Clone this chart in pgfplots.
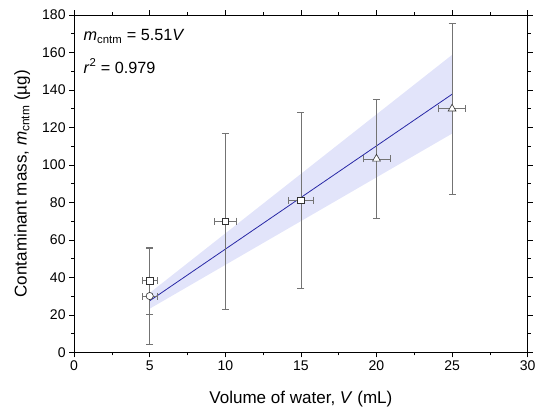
\documentclass[border=0pt]{standalone}
\usepackage{fontspec}
\setmainfont{Liberation Sans}
\usepackage{pgfplots}
\pgfplotsset{compat=1.18}
\definecolor{fitline}{RGB}{40,40,165}
\definecolor{band}{RGB}{226,228,250}
\definecolor{ebar}{RGB}{115,115,115}
\definecolor{medge}{RGB}{50,50,50}

\begin{document}
\begin{tikzpicture}
\begin{axis}[
    scale only axis,
    width=453pt, height=337pt,
    xmin=0, xmax=30, ymin=0, ymax=180,
    xtick distance=5, ytick distance=20,
    minor x tick num=1, minor y tick num=1,
    tick align=outside,
    major tick length=5pt, minor tick length=3pt,
    tick style={black, line width=0.6pt},
    axis line style={line width=0.8pt},
    /pgf/number format/assume math mode=true,
    tick label style={font=\fontsize{14}{16}\selectfont},
    label style={font=\fontsize{17}{20}\selectfont},
    xlabel={Volume of water, \textit{V} (mL)},
    ylabel={Contaminant mass, \textit{m}\textsubscript{cntm} (µg)},
    xlabel shift=13pt, ylabel shift=5pt,
    error bars/error bar style={ebar, line width=0.6pt},
    error bars/error mark options={ebar, line width=0.6pt, mark size=3.5pt, rotate=90},
]
% confidence band of the fit
\addplot[fill=band, draw=none] coordinates {
    (5,31.75) (25,158.75) (25,116.75) (5,23.35)
} -- cycle;
% fit line
\addplot[fitline, line width=0.8pt] coordinates {(5,27.55) (25,137.75)};

% squares
\addplot[only marks, mark=square*, mark size=3.4pt,
    mark options={fill=white, draw=medge, line width=0.6pt},
    error bars/.cd, x dir=both, x explicit, y dir=both, y explicit]
    coordinates {
    (5,38.3)  +- (0.5,17.9)
    (10,70.0) +- (0.72,47)
    (15,81.2) +- (0.84,47)
};
% circle
\addplot[only marks, mark=*, mark size=3.6pt,
    mark options={fill=white, draw=medge, line width=0.6pt},
    error bars/.cd, x dir=both, x explicit, y dir=both, y explicit]
    coordinates {
    (5,30.1) +- (0.5,25.6)
};
% triangles
\addplot[only marks, mark=triangle*, mark size=4.5pt,
    mark options={fill=white, draw=medge, line width=0.6pt},
    error bars/.cd, x dir=both, x explicit, y dir=both, y explicit]
    coordinates {
    (20,103.3) +- (0.88,32)
    (25,130.0) +- (0.88,45.5)
};

\node[anchor=west, font=\fontsize{16.2}{19}\selectfont] at (axis cs:0.4,168.6)
    {\textit{m}\textsubscript{cntm} = 5.51\textit{V}};
\node[anchor=west, font=\fontsize{16.2}{19}\selectfont] at (axis cs:0.4,152.8)
    {\textit{r}\textsuperscript{2} = 0.979};
\coordinate (ll) at (rel axis cs:0,0);
\coordinate (ur) at (rel axis cs:1,1);
\end{axis}
\pgfresetboundingbox
\path ([shift={(-74pt,-55pt)}]ll) rectangle ([shift={(7.3pt,15pt)}]ur);
\end{tikzpicture}
\end{document}
